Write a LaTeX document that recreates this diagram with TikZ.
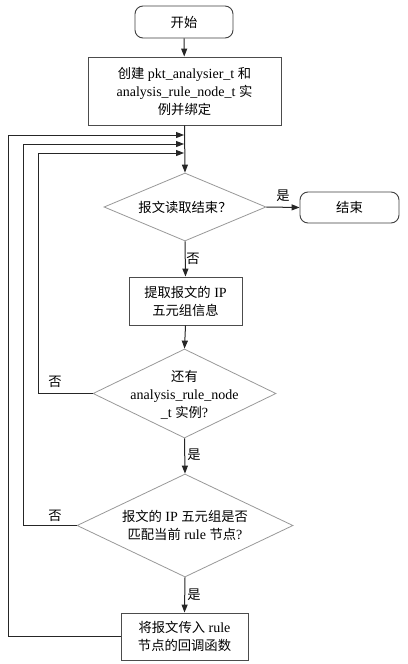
\documentclass[tikz,border=0pt]{standalone}
\usepackage{fontspec}
\setmainfont{Liberation Serif}
\newfontfamily\zhfont{Noto Sans CJK SC}[Scale=0.95]
\newcommand\zh[1]{{\zhfont #1}}
\usetikzlibrary{shapes.geometric,arrows.meta}
\begin{document}
\begin{tikzpicture}[x=1pt,y=-1pt,
  every node/.style={font=\fontsize{14}{18}\selectfont},
  term/.style={draw=black!75,line width=0.9pt,rounded corners=8pt,inner sep=0pt},
  proc/.style={draw=black!70,line width=0.9pt,inner sep=0pt},
  dia/.style={draw=black!40,line width=0.8pt,shape=diamond,inner sep=0pt},
  txt/.style={align=center,inner sep=0pt},
  flow/.style={draw=black!85,line width=1pt,-{Triangle[length=8pt,width=6pt]}},
  lab/.style={inner sep=0pt}]
\useasboundingbox (0,0) rectangle (407,664);
\fill[white] (0,0) rectangle (407,664);
% nodes
\node[term,minimum width=98pt,minimum height=32pt] (start) at (184,22) {\zh{开始}};
\node[proc,minimum width=193pt,minimum height=68pt] (create) at (184.5,91) {};
\node[txt] at (create) {\zh{创建} pkt\_analysier\_t \zh{和}\\analysis\_rule\_node\_t \zh{实}\\\zh{例并绑定}};
\node[dia,minimum width=162pt,minimum height=68pt] (d1) at (185,207) {};
\node[txt] at (d1) {\zh{报文读取结束？}};
\node[term,minimum width=99pt,minimum height=31pt] (end) at (349.5,207.5) {\zh{结束}};
\node[proc,minimum width=113pt,minimum height=48pt] (extract) at (185.5,301) {};
\node[txt] at (extract) {\zh{提取报文的} IP\\\zh{五元组信息}};
\node[dia,minimum width=183pt,minimum height=89pt] (d2) at (184.5,393.5) {};
\node[txt] at ([yshift=-1pt]d2.center) {\zh{还有}\\analysis\_rule\_node\\\_t \zh{实例}?};
\node[dia,minimum width=216pt,minimum height=103pt] (d3) at (185,525.5) {};
\node[txt] at (d3.center) {\zh{报文的} IP \zh{五元组是否}\\\zh{匹配当前} rule \zh{节点}?};
\node[proc,minimum width=127pt,minimum height=47pt] (final) at (184.5,636.5) {};
\node[txt] at (final) {\zh{将报文传入} rule\\\zh{节点的回调函数}};
% coordinates
\coordinate (m1) at (184,135);
\coordinate (m2) at (184,144);
\coordinate (m3) at (184,153);
% connectors
\draw[flow] (start) -- (create);
\draw[flow] (create.south) -- (d1.north);
\draw[flow] (d1.east) -- (end.west);
\draw[flow] (d1.south) -- (extract.north);
\draw[flow] (extract.south) -- (d2.north);
\draw[flow] (d2.south) -- (d3.north);
\draw[flow] (d3.south) -- (final.north);
\draw[flow] (final.west) -| (8,135) -- (m1);
\draw[flow] (d3.west) -| (23,144) -- (m2);
\draw[flow] (d2.west) -| (38,153) -- (m3);
% labels
\node[lab] at (283,196) {\zh{是}};
\node[lab] at (193,259) {\zh{否}};
\node[lab] at (55,382) {\zh{否}};
\node[lab] at (194,455) {\zh{是}};
\node[lab] at (55,516) {\zh{否}};
\node[lab] at (194,595) {\zh{是}};
\end{tikzpicture}
\end{document}
